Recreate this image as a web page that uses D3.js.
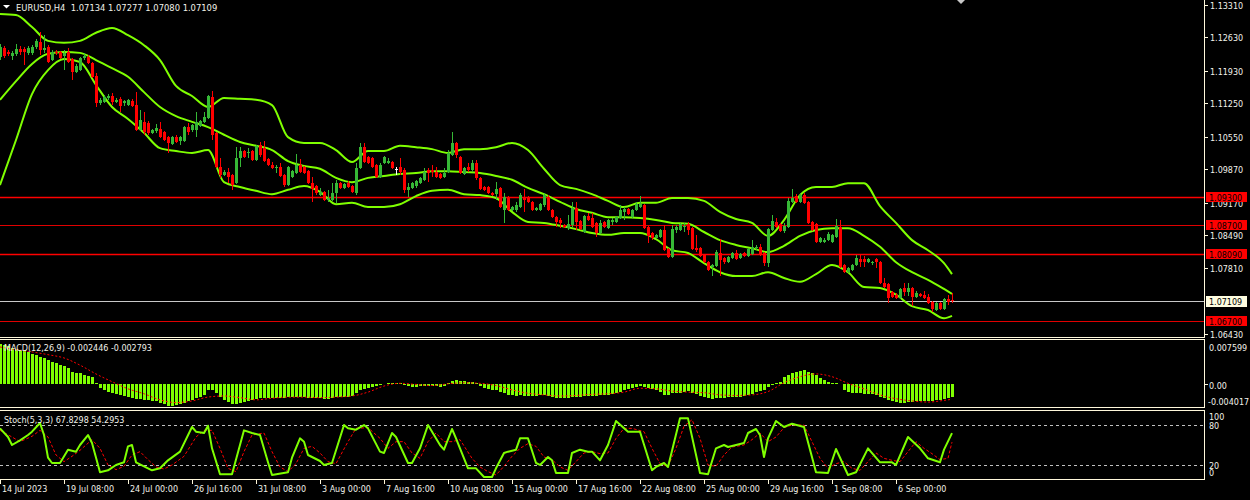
<!DOCTYPE html>
<html><head><meta charset="utf-8">
<script src="https://cdn.jsdelivr.net/npm/d3@7"></script>
<style>html,body{margin:0;padding:0;background:#000;overflow:hidden}svg{display:block}</style>
</head><body><svg id="c" width="1250" height="500"></svg>
<script>
// ---------------- DATA ----------------
const symbol = "EURUSD,H4";
const opens = [
1.1221,1.1240,1.1232,1.1224,1.1228,1.1238,1.1238,1.1230,1.1230,1.1242,
1.1253,1.1236,1.1242,1.1215,1.1232,1.1232,1.1224,1.1232,1.1217,1.1190,
1.1194,1.1219,1.1221,1.1209,1.1182,1.1125,1.1127,1.1136,1.1140,1.1127,
1.1134,1.1125,1.1121,1.1130,1.1121,1.1069,1.1086,1.1084,1.1063,1.1067,
1.1071,1.1065,1.1054,1.1040,1.1054,1.1046,1.1046,1.1075,1.1069,1.1069,
1.1077,1.1086,1.1094,1.1138,1.1063,1.0992,1.0975,1.0981,1.0975,1.0958,
1.1010,1.1025,1.1021,1.1025,1.1006,1.1038,1.1031,1.1008,1.0996,1.0990,
1.0992,1.0975,1.0954,1.0971,1.0979,1.0996,1.0992,1.0983,1.0958,1.0952,
1.0933,1.0940,1.0923,1.0923,1.0937,1.0958,1.0948,1.0958,1.0952,1.0937,
1.0990,1.1033,1.1013,1.1010,1.0996,1.0971,1.1000,1.1000,1.1002,1.0988,
1.0992,1.0985,1.0944,1.0948,1.0952,1.0958,1.0965,1.0985,1.0985,1.0981,
1.0977,1.0971,1.0981,1.1017,1.1042,1.1013,1.0977,1.0992,1.0985,1.1000,
1.0969,1.0950,1.0950,1.0937,1.0935,1.0948,1.0902,1.0929,1.0902,1.0902,
1.0908,1.0929,1.0929,1.0919,1.0902,1.0902,1.0912,1.0929,1.0902,1.0887,
1.0881,1.0871,1.0864,1.0871,1.0906,1.0879,1.0856,1.0889,1.0885,1.0875,
1.0854,1.0877,1.0864,1.0877,1.0877,1.0885,1.0898,1.0904,1.0887,1.0902,
1.0908,1.0912,1.0866,1.0854,1.0844,1.0846,1.0860,1.0820,1.0804,1.0860,
1.0860,1.0866,1.0873,1.0864,1.0822,1.0822,1.0808,1.0793,1.0783,1.0785,
1.0812,1.0802,1.0793,1.0802,1.0812,1.0802,1.0812,1.0806,1.0810,1.0822,
1.0825,1.0812,1.0791,1.0860,1.0877,1.0873,1.0858,1.0866,1.0919,1.0931,
1.0919,1.0933,1.0919,1.0877,1.0873,1.0835,1.0835,1.0839,1.0835,1.0846,
1.0866,1.0787,1.0772,1.0777,1.0787,1.0800,1.0800,1.0793,1.0791,1.0800,
1.0793,1.0749,1.0747,1.0731,1.0725,1.0718,1.0739,1.0731,1.0739,1.0720,
1.0727,1.0725,1.0720,1.0710,1.0693,1.0707,1.0695,1.0716,1.07134];
const highs = [
1.1248,1.1244,1.1236,1.1234,1.1248,1.1244,1.1242,1.1244,1.1246,1.1259,
1.1274,1.1267,1.1246,1.1236,1.1236,1.1234,1.1236,1.1240,1.1219,1.1207,
1.1221,1.1230,1.1226,1.1211,1.1188,1.1136,1.1142,1.1144,1.1146,1.1136,
1.1138,1.1132,1.1134,1.1134,1.1148,1.1111,1.1107,1.1088,1.1071,1.1081,
1.1086,1.1067,1.1056,1.1056,1.1059,1.1056,1.1077,1.1084,1.1081,1.1107,
1.1090,1.1107,1.1142,1.1150,1.1065,1.1010,1.0985,1.0990,1.0977,1.1033,
1.1033,1.1027,1.1031,1.1027,1.1038,1.1044,1.1046,1.1010,1.1002,1.0996,
1.1000,1.0977,1.0994,1.0985,1.1019,1.1008,1.0994,1.0985,1.0971,1.0954,
1.0948,1.0942,1.0944,1.0958,1.0965,1.0960,1.0958,1.0962,1.0954,1.1000,
1.1042,1.1042,1.1015,1.1013,1.0998,1.1000,1.1015,1.1010,1.1004,1.0992,
1.1010,1.0990,1.0958,1.0960,1.0965,1.0971,1.0990,1.0990,1.0996,1.0992,
1.0979,1.0990,1.1027,1.1065,1.1044,1.1015,1.0992,1.1000,1.1006,1.1006,
1.0971,1.0952,1.0952,1.0940,1.0960,1.0950,1.0937,1.0931,1.0910,1.0919,
1.0937,1.0946,1.0931,1.0921,1.0908,1.0917,1.0937,1.0933,1.0904,1.0889,
1.0885,1.0873,1.0892,1.0919,1.0919,1.0881,1.0892,1.0896,1.0896,1.0877,
1.0881,1.0879,1.0883,1.0885,1.0889,1.0912,1.0908,1.0906,1.0904,1.0919,
1.0931,1.0914,1.0869,1.0856,1.0852,1.0862,1.0871,1.0822,1.0871,1.0871,
1.0875,1.0875,1.0877,1.0866,1.0850,1.0825,1.0810,1.0795,1.0789,1.0818,
1.0841,1.0804,1.0806,1.0814,1.0818,1.0812,1.0814,1.0822,1.0839,1.0829,
1.0831,1.0814,1.0864,1.0892,1.0885,1.0875,1.0875,1.0927,1.0946,1.0935,
1.0937,1.0937,1.0921,1.0879,1.0875,1.0846,1.0844,1.0856,1.0852,1.0883,
1.0881,1.0789,1.0783,1.0789,1.0808,1.0808,1.0806,1.0802,1.0795,1.0802,
1.0795,1.0760,1.0749,1.0733,1.0729,1.0739,1.0749,1.0749,1.0741,1.0733,
1.0729,1.0733,1.0727,1.0712,1.0710,1.0710,1.0718,1.0725,1.07277];
const lows = [
1.1215,1.1219,1.1224,1.1215,1.1224,1.1226,1.1205,1.1226,1.1226,1.1238,
1.1226,1.1230,1.1209,1.1213,1.1226,1.1217,1.1194,1.1209,1.1173,1.1188,
1.1192,1.1215,1.1207,1.1178,1.1117,1.1121,1.1125,1.1132,1.1121,1.1125,
1.1107,1.1119,1.1119,1.1117,1.1067,1.1067,1.1059,1.1059,1.1061,1.1063,
1.1052,1.1046,1.1021,1.1038,1.1042,1.1038,1.1044,1.1059,1.1065,1.1054,
1.1075,1.1084,1.1092,1.1048,1.0990,1.0969,1.0973,1.0958,1.0944,1.0956,
1.0992,1.1010,1.1010,1.1004,1.1004,1.1013,1.1002,1.0994,1.0988,1.0979,
1.0971,1.0950,1.0952,1.0969,1.0977,1.0979,1.0977,1.0956,1.0919,1.0933,
1.0931,1.0921,1.0919,1.0921,1.0917,1.0946,1.0946,1.0948,1.0937,1.0933,
1.0988,1.1000,1.0998,1.0990,1.0969,1.0969,1.0998,1.0998,1.0988,1.0975,
1.0975,1.0937,1.0929,1.0946,1.0948,1.0956,1.0962,1.0960,1.0971,1.0969,
1.0967,1.0969,1.0979,1.1015,1.1010,1.0977,1.0975,1.0981,1.0981,1.0965,
1.0944,1.0942,1.0935,1.0931,1.0923,1.0906,1.0875,1.0900,1.0900,1.0898,
1.0906,1.0898,1.0917,1.0900,1.0900,1.0900,1.0908,1.0900,1.0885,1.0866,
1.0864,1.0864,1.0860,1.0866,1.0860,1.0860,1.0854,1.0879,1.0864,1.0846,
1.0852,1.0864,1.0862,1.0871,1.0875,1.0883,1.0881,1.0892,1.0885,1.0900,
1.0906,1.0862,1.0833,1.0839,1.0841,1.0844,1.0816,1.0802,1.0802,1.0854,
1.0858,1.0856,1.0850,1.0818,1.0814,1.0804,1.0791,1.0775,1.0764,1.0783,
1.0764,1.0789,1.0791,1.0800,1.0798,1.0800,1.0804,1.0804,1.0808,1.0818,
1.0806,1.0785,1.0783,1.0858,1.0864,1.0856,1.0854,1.0864,1.0917,1.0917,
1.0917,1.0914,1.0873,1.0858,1.0833,1.0833,1.0833,1.0837,1.0833,1.0844,
1.0781,1.0770,1.0770,1.0775,1.0785,1.0783,1.0783,1.0791,1.0787,1.0781,
1.0747,1.0739,1.0707,1.0718,1.0716,1.0716,1.0722,1.0722,1.0701,1.0718,
1.0720,1.0716,1.0705,1.0689,1.0691,1.0693,1.0693,1.0703,1.07080];
const closes = [
1.1242,1.1224,1.1228,1.1230,1.1238,1.1232,1.1232,1.1240,1.1242,1.1255,
1.1236,1.1240,1.1211,1.1232,1.1230,1.1219,1.1230,1.1211,1.1190,1.1203,
1.1219,1.1224,1.1209,1.1180,1.1125,1.1132,1.1138,1.1140,1.1127,1.1132,
1.1119,1.1130,1.1132,1.1119,1.1069,1.1090,1.1065,1.1063,1.1069,1.1073,
1.1054,1.1048,1.1042,1.1054,1.1044,1.1054,1.1075,1.1065,1.1079,1.1086,
1.1088,1.1096,1.1140,1.1059,1.0992,1.0975,1.0981,1.0971,1.0954,1.1010,
1.1025,1.1013,1.1023,1.1006,1.1036,1.1017,1.1004,1.0996,1.0990,1.0992,
1.0973,1.0954,1.0992,1.0983,1.0996,1.0981,1.0979,1.0958,1.0946,1.0937,
1.0940,1.0923,1.0927,1.0937,1.0958,1.0948,1.0956,1.0950,1.0940,1.0990,
1.1033,1.1002,1.1000,1.0992,1.0971,1.0996,1.1013,1.1004,1.0990,1.0988,
1.0981,1.0944,1.0950,1.0958,1.0962,1.0969,1.0981,1.0979,1.0981,1.0971,
1.0969,1.0979,1.1021,1.1042,1.1017,1.0979,1.0990,1.0985,1.1000,1.0969,
1.0946,1.0944,1.0937,1.0933,1.0946,1.0908,1.0929,1.0902,1.0908,1.0912,
1.0933,1.0923,1.0919,1.0902,1.0906,1.0914,1.0933,1.0902,1.0887,1.0877,
1.0875,1.0866,1.0873,1.0906,1.0877,1.0862,1.0889,1.0881,1.0866,1.0854,
1.0875,1.0866,1.0881,1.0881,1.0887,1.0902,1.0904,1.0894,1.0902,1.0914,
1.0914,1.0864,1.0848,1.0844,1.0850,1.0860,1.0818,1.0804,1.0862,1.0866,
1.0873,1.0869,1.0860,1.0820,1.0818,1.0806,1.0793,1.0777,1.0787,1.0814,
1.0798,1.0793,1.0804,1.0812,1.0800,1.0810,1.0806,1.0820,1.0825,1.0825,
1.0808,1.0791,1.0862,1.0879,1.0866,1.0858,1.0869,1.0921,1.0927,1.0919,
1.0933,1.0917,1.0875,1.0860,1.0835,1.0844,1.0839,1.0852,1.0850,1.0869,
1.0783,1.0772,1.0781,1.0787,1.0802,1.0793,1.0793,1.0800,1.0793,1.0793,
1.0749,1.0741,1.0718,1.0720,1.0718,1.0737,1.0731,1.0739,1.0720,1.0729,
1.0722,1.0718,1.0707,1.0695,1.0707,1.0695,1.0716,1.0710,1.07109];

// Bollinger bands, read every 4th bar plus the last bar
const bandBars = [0,4,8,12,16,20,24,28,32,36,40,44,48,52,56,60,64,68,72,76,80,84,88,92,96,100,104,108,112,116,
120,124,128,132,136,140,144,148,152,156,160,164,168,172,176,180,184,188,192,196,200,204,208,212,216,220,224,228,232,236,238];
const bandUpper = [1.1311,1.1309,1.1284,1.1255,1.1251,1.1255,1.1272,1.1282,1.1267,1.1246,
1.1215,1.1161,1.1140,1.1117,1.1136,1.1134,1.1132,1.1121,1.1054,1.1042,
1.1042,1.1027,1.1002,1.1025,1.1025,1.1036,1.1033,1.1029,1.1021,1.1029,
1.1029,1.1033,1.1042,1.1027,1.0988,1.0954,1.0946,1.0935,1.0921,1.0908,
1.0917,1.0917,1.0927,1.0927,1.0921,1.0898,1.0883,1.0875,1.0848,1.0881,
1.0933,1.0950,1.0950,1.0958,1.0958,1.0910,1.0875,1.0839,1.0818,1.0791,1.0768];
const bandMiddle = [1.1132,1.1171,1.1207,1.1228,1.1232,1.1230,1.1215,1.1198,1.1180,1.1148,
1.1117,1.1098,1.1086,1.1075,1.1059,1.1044,1.1036,1.1027,1.1004,1.0994,
1.0988,1.0969,1.0960,1.0969,1.0973,1.0977,1.0979,1.0983,1.0983,1.0981,
1.0979,1.0973,1.0965,1.0948,1.0935,1.0919,1.0904,1.0896,1.0887,1.0887,
1.0885,1.0881,1.0875,1.0873,1.0856,1.0839,1.0829,1.0822,1.0814,1.0827,
1.0848,1.0860,1.0864,1.0864,1.0848,1.0825,1.0793,1.0772,1.0756,1.0737,1.0727];
const bandLower = [1.0954,1.1048,1.1144,1.1194,1.1217,1.1211,1.1163,1.1117,1.1092,1.1063,
1.1031,1.1025,1.1021,1.1027,1.0960,1.0950,1.0942,1.0935,1.0944,1.0952,
1.0940,1.0914,1.0917,1.0908,1.0908,1.0914,1.0931,1.0942,1.0944,1.0935,
1.0933,1.0927,1.0898,1.0877,1.0875,1.0869,1.0862,1.0854,1.0850,1.0854,
1.0854,1.0841,1.0818,1.0812,1.0791,1.0772,1.0764,1.0764,1.0772,1.0760,
1.0752,1.0768,1.0787,1.0772,1.0741,1.0739,1.0725,1.0701,1.0693,1.0676,1.0681];

// MACD(12,26,9)
const macdHist = [
0.0072,0.0070,0.0068,0.0066,0.0064,0.0062,0.0060,0.0057,0.0055,0.0052,
0.0049,0.0047,0.0044,0.0040,0.0038,0.0035,0.0033,0.0029,0.0022,0.0020,
0.0019,0.0017,0.0015,0.0013,0.0002,-0.0007,-0.0011,-0.0014,-0.0016,-0.0018,
-0.0020,-0.0022,-0.0024,-0.0026,-0.0028,-0.0028,-0.0029,-0.0030,-0.0031,-0.0032,
-0.0035,-0.0037,-0.0040,-0.0040,-0.0039,-0.0037,-0.0034,-0.0032,-0.0029,-0.0026,
-0.0023,-0.0020,-0.0011,-0.0012,-0.0016,-0.0024,-0.0029,-0.0033,-0.0036,-0.0036,
-0.0035,-0.0033,-0.0032,-0.0029,-0.0027,-0.0026,-0.0026,-0.0025,-0.0025,-0.0025,
-0.0025,-0.0025,-0.0024,-0.0024,-0.0023,-0.0024,-0.0024,-0.0025,-0.0026,-0.0025,
-0.0026,-0.0027,-0.0027,-0.0025,-0.0024,-0.0023,-0.0023,-0.0023,-0.0022,-0.0016,
-0.0011,-0.0009,-0.0007,-0.0006,-0.0004,-0.0002,0.0000,0.0002,0.0002,0.0002,
0.0002,-0.0002,-0.0004,-0.0005,-0.0005,-0.0004,-0.0003,-0.0003,-0.0004,-0.0004,
-0.0005,-0.0004,0.0002,0.0006,0.0007,0.0005,0.0005,0.0004,0.0003,0.0001,
-0.0003,-0.0007,-0.0009,-0.0011,-0.0011,-0.0015,-0.0017,-0.0020,-0.0021,-0.0022,
-0.0021,-0.0022,-0.0022,-0.0022,-0.0022,-0.0021,-0.0021,-0.0022,-0.0024,-0.0025,
-0.0026,-0.0026,-0.0026,-0.0024,-0.0024,-0.0024,-0.0022,-0.0022,-0.0022,-0.0022,
-0.0021,-0.0021,-0.0020,-0.0019,-0.0017,-0.0015,-0.0012,-0.0010,-0.0007,-0.0005,
-0.0004,-0.0005,-0.0007,-0.0009,-0.0012,-0.0014,-0.0020,-0.0021,-0.0017,-0.0016,
-0.0016,-0.0014,-0.0013,-0.0016,-0.0019,-0.0022,-0.0024,-0.0026,-0.0027,-0.0025,
-0.0025,-0.0025,-0.0024,-0.0024,-0.0024,-0.0024,-0.0022,-0.0020,-0.0018,-0.0015,
-0.0013,-0.0011,-0.0005,-0.0002,0.0002,0.0004,0.0013,0.0016,0.0020,0.0022,
0.0024,0.0025,0.0022,0.0019,0.0016,0.0011,0.0007,0.0004,0.0002,0.0001,
0.0000,-0.0011,-0.0014,-0.0016,-0.0016,-0.0017,-0.0018,-0.0018,-0.0019,-0.0020,
-0.0024,-0.0026,-0.0029,-0.0031,-0.0033,-0.0035,-0.0034,-0.0033,-0.0033,-0.0032,
-0.0032,-0.0031,-0.0031,-0.0031,-0.0030,-0.0029,-0.0027,-0.0025,-0.002446];
const macdSignal = [0.0067,0.0062,0.0058,0.0053,0.0047,0.0034,0.0018,0.0004,-0.0009,-0.0018,
-0.0029,-0.0034,-0.0031,-0.0024,-0.0022,-0.0025,-0.0029,-0.0026,-0.0024,-0.0024,
-0.0025,-0.0024,-0.0022,-0.0015,-0.0004,0.0001,-0.0001,-0.0003,0.0000,0.0002,
0.0001,-0.0003,-0.0011,-0.0017,-0.0020,-0.0022,-0.0021,-0.0019,-0.0018,-0.0015,
-0.0008,-0.0009,-0.0013,-0.0015,-0.0016,-0.0020,-0.0021,-0.0020,-0.0014,0.0002,
0.0013,0.0018,0.0013,0.0001,-0.0009,-0.0020,-0.0027,-0.0031,-0.0033,-0.0030,-0.002793];

// Stochastic(5,3,3)
const stochKBars = [0,2,3,5,7,8,10,11,12,13,15,17,19,20,22,23,25,27,29,31,32,33,34,36,38,40,42,45,48,49,51,52,53,55,58,61,63,65,67,68,
72,73,75,76,77,80,81,83,86,87,89,91,92,95,96,98,99,102,103,105,107,110,111,113,114,117,119,121,123,124,126,127,129,130,132,134,135,137,138,139,
142,143,145,147,148,150,152,154,157,160,163,164,166,167,170,172,175,177,179,181,182,186,187,189,190,191,192,194,196,198,201,204,207,209,212,214,217,220,223,224,
227,230,232,235,236,238];
const stochK = [75,62,50,57,65,70,83,65,31,23,23,43,40,50,65,53,9,12,20,24,48,50,24,18,12,15,27,40,77,70,68,79,45,6,6,72,68,65,24,5,
9,31,60,55,35,26,20,23,80,75,73,80,75,40,38,68,62,23,23,45,80,50,43,74,60,15,15,2,2,15,38,40,43,60,60,23,20,32,27,8,
8,38,43,40,40,27,50,86,70,70,12,17,23,17,90,90,8,6,45,50,47,53,68,74,65,32,60,86,77,82,77,9,8,44,5,9,45,24,24,20,
62,45,30,24,43,67.8298];
const stochDBars = [0,3,5,8,10,12,14,16,18,20,23,25,27,29,31,33,35,37,39,41,43,46,49,51,53,55,57,59,61,63,66,68,70,72,74,76,78,80,82,84,
87,89,92,95,97,99,101,103,105,107,109,111,113,115,118,120,122,124,126,128,130,132,134,136,138,140,142,144,146,148,150,152,154,156,158,161,163,165,167,169,
171,173,175,177,179,181,183,186,188,190,192,194,196,198,201,203,205,207,209,211,213,215,217,219,221,223,225,227,229,231,233,235,237,238];
const stochD = [72,62,55,63,72,62,35,25,33,42,58,45,20,13,18,35,40,28,17,14,20,33,62,72,72,45,15,10,40,65,68,40,17,10,22,45,48,38,25,22,
55,75,76,60,45,55,55,38,30,55,68,55,55,58,30,17,10,5,18,33,45,52,48,32,28,17,12,25,38,40,37,38,60,75,75,70,45,22,18,45,
78,88,60,20,18,35,47,50,58,68,55,62,76,80,80,55,30,15,22,25,15,12,25,38,30,27,25,40,55,45,37,28,30,54.2953];

const priceTicks = [1.13310,1.12630,1.11930,1.11250,1.10550,1.09870,1.09170,1.08490,1.07810,1.06430];
const levelLines = [1.09300,1.08700,1.08090,1.06700];
const levelBold = [true,false,true,false];
const lastPrice = 1.07109;
const macdMax = 0.007599, macdMin = -0.004017;
const stochLevels = [80,20];
const timeTickBars = [0,16,32,48,64,80,96,112,128,144,160,176,192,208,224];
const timeTickLabels = ["14 Jul 2023","19 Jul 08:00","24 Jul 00:00","26 Jul 16:00","31 Jul 08:00","3 Aug 00:00","7 Aug 16:00",
"10 Aug 08:00","15 Aug 00:00","17 Aug 16:00","22 Aug 08:00","25 Aug 00:00","29 Aug 16:00","1 Sep 08:00","6 Sep 00:00"];
const header = [1.07134,1.07277,1.07080,1.07109];

// ---------------- DRAW ----------------
const FONT = "DejaVu Sans";
const AXC = "#fff8dc", TXT = "#f2f2ea";
const UP = "#36b836", DN = "#ff0000", IND = "#7fff00";
const svg = d3.select("#c");
svg.append("rect").attr("width",1250).attr("height",500).attr("fill","#000");
const defs = svg.append("defs");
defs.append("clipPath").attr("id","cm").append("rect").attr("x",0).attr("y",0).attr("width",1204).attr("height",337);
defs.append("clipPath").attr("id","cd").append("rect").attr("x",0).attr("y",340).attr("width",1204).attr("height",67);
defs.append("clipPath").attr("id","cs").append("rect").attr("x",0).attr("y",411).attr("width",1204).attr("height",68);

const x = d3.scaleLinear().domain([0,238]).range([0,952]);
const yP = d3.scaleLinear().domain([1.06430,1.13310]).range([334,4.5]);
const yM = d3.scaleLinear().domain([macdMin,macdMax]).range([406,342]);
const yS = d3.scaleLinear().domain([0,100]).range([478.3,411.7]);

// main panel
const gm = svg.append("g").attr("clip-path","url(#cm)");
levelLines.forEach((v,i)=>{
  gm.append("line").attr("x1",0).attr("x2",1204).attr("y1",Math.round(yP(v))+0.5).attr("y2",Math.round(yP(v))+0.5)
    .attr("stroke", levelBold[i] ? "#ff0000" : "#e00000").attr("stroke-width", levelBold[i]?1.3:1);
});
gm.append("line").attr("x1",0).attr("x2",1204).attr("y1",Math.round(yP(lastPrice))+0.5).attr("y2",Math.round(yP(lastPrice))+0.5)
  .attr("stroke","#c8c8c8").attr("stroke-width",1);

const bandLine = arr => d3.line().x((d,i)=>x(bandBars[i])).y(d=>yP(d)).curve(d3.curveMonotoneX)(arr);
[bandUpper,bandMiddle,bandLower].forEach(arr=>{
  gm.append("path").attr("d",bandLine(arr)).attr("fill","none").attr("stroke",IND).attr("stroke-width",2);
});

const candles = opens.map((o,i)=>({i,o,h:highs[i],l:lows[i],c:closes[i]}));
const col = d => d.c>d.o ? UP : (d.c<d.o ? DN : "#ffffff");
gm.selectAll("line.w").data(candles).join("line").attr("class","w")
  .attr("x1",d=>Math.round(x(d.i))+0.5).attr("x2",d=>Math.round(x(d.i))+0.5)
  .attr("y1",d=>yP(d.h)).attr("y2",d=>yP(d.l)).attr("stroke",col).attr("stroke-width",1)
  .attr("shape-rendering","crispEdges");
gm.selectAll("rect.b").data(candles).join("rect").attr("class","b")
  .attr("x",d=>Math.round(x(d.i))-1).attr("width",3)
  .attr("y",d=>yP(Math.max(d.o,d.c)))
  .attr("height",d=>Math.max(1,Math.abs(yP(d.o)-yP(d.c))))
  .attr("fill",col).attr("shape-rendering","crispEdges");

// header
svg.append("path").attr("d","M3,5 L10,5 L6.5,8.5 Z").attr("fill","#fff");
svg.append("text").attr("x",16).attr("y",10.5).attr("font-family",FONT).attr("font-size","8.4px").attr("fill",TXT)
  .attr("xml:space","preserve").text(symbol+"  "+header.map(v=>v.toFixed(5)).join(" "));
svg.append("path").attr("d","M957,0 L965,0 L961,4 Z").attr("fill","#c8c8c8");

// MACD panel
const gd = svg.append("g").attr("clip-path","url(#cd)");
gd.selectAll("rect").data(macdHist.map((v,i)=>({i,v}))).join("rect")
  .attr("x",d=>Math.round(x(d.i))-1).attr("width",3)
  .attr("y",d=>Math.min(yM(0),yM(d.v))).attr("height",d=>Math.abs(yM(d.v)-yM(0)))
  .attr("fill",IND).attr("shape-rendering","crispEdges");
gd.append("path").attr("d",d3.line().x((d,i)=>x(bandBars[i])).y(d=>yM(d)).curve(d3.curveMonotoneX)(macdSignal))
  .attr("fill","none").attr("stroke","#ff0000").attr("stroke-width",1).attr("stroke-dasharray","2,2");
svg.append("text").attr("x",4).attr("y",351).attr("font-family",FONT).attr("font-size","8px").attr("fill",TXT)
  .text("MACD(12,26,9) -0.002446 -0.002793");

// Stoch panel
const gs = svg.append("g").attr("clip-path","url(#cs)");
stochLevels.forEach(v=>{
  gs.append("line").attr("x1",0).attr("x2",1204).attr("y1",Math.round(yS(v))+0.5).attr("y2",Math.round(yS(v))+0.5)
    .attr("stroke","#c0c0c0").attr("stroke-dasharray","3,3");
});
gs.append("path").attr("d",d3.line().x((d,i)=>x(stochDBars[i])).y(d=>yS(d))(stochD))
  .attr("fill","none").attr("stroke","#ff0000").attr("stroke-width",1).attr("stroke-dasharray","3,2");
gs.append("path").attr("d",d3.line().x((d,i)=>x(stochKBars[i])).y(d=>yS(d))(stochK))
  .attr("fill","none").attr("stroke",IND).attr("stroke-width",2).attr("stroke-linejoin","round");
svg.append("text").attr("x",4).attr("y",423).attr("font-family",FONT).attr("font-size","8px").attr("fill",TXT)
  .text("Stoch(5,3,3) 67.8298 54.2953");

// frames / separators (each panel boxed up to the price axis)
const hl = (y)=>svg.append("line").attr("x1",0).attr("x2",1205).attr("y1",y).attr("y2",y).attr("stroke",AXC).attr("stroke-width",1);
hl(337.5); hl(339.5); hl(407.5); hl(410.5); hl(479.5);
[[0,338],[339,408],[410,480]].forEach(([a,b])=>{
  svg.append("line").attr("x1",1204.5).attr("x2",1204.5).attr("y1",a).attr("y2",b).attr("stroke",AXC);
});

// right price axis
const ga = svg.append("g").attr("font-family",FONT).attr("font-size","8px");
priceTicks.forEach(v=>{
  const yy = Math.round(yP(v))+0.5;
  ga.append("line").attr("x1",1204).attr("x2",1208).attr("y1",yy).attr("y2",yy).attr("stroke",AXC);
  ga.append("text").attr("x",1210).attr("y",yy+3).attr("fill",TXT).text(v.toFixed(5));
});
levelLines.forEach(v=>{
  const yy = yP(v);
  ga.append("rect").attr("x",1206).attr("y",Math.round(yy)-5).attr("width",41).attr("height",10).attr("fill","#ff0000");
  ga.append("text").attr("x",1209).attr("y",Math.round(yy)+3.5).attr("fill","#000").text(v.toFixed(5));
});
{
  const yy = yP(lastPrice);
  ga.append("rect").attr("x",1206).attr("y",Math.round(yy)-5).attr("width",41).attr("height",11).attr("fill","#fffde0");
  ga.append("text").attr("x",1209).attr("y",Math.round(yy)+4).attr("fill","#000").text(lastPrice.toFixed(5));
}
// MACD axis
[[macdMax,350.5,1209],[0,388.5,1209],[macdMin,405,1208]].forEach(([v,by,xx])=>{
  ga.append("text").attr("x",xx).attr("y",by).attr("fill",TXT).text(v===0?"0.00":v.toFixed(6));
});
ga.append("line").attr("x1",1204).attr("x2",1208).attr("y1",Math.round(yM(0))+0.5).attr("y2",Math.round(yM(0))+0.5).attr("stroke",AXC);
// Stoch axis
[[100,420],[80,428.5],[20,468.5],[0,475.5]].forEach(([v,by])=>{
  ga.append("text").attr("x",1209).attr("y",by).attr("fill",TXT).text(String(v));
});

// time axis
const gt = svg.append("g").attr("font-family",FONT).attr("font-size","8px");
timeTickBars.forEach((b,i)=>{
  const xx = Math.round(x(b))+0.5;
  gt.append("line").attr("x1",xx).attr("x2",xx).attr("y1",480).attr("y2",484).attr("stroke",AXC);
  gt.append("text").attr("x",i===0?2:xx+1.5).attr("y",492).attr("fill",TXT).text(timeTickLabels[i]);
});
</script></body></html>
